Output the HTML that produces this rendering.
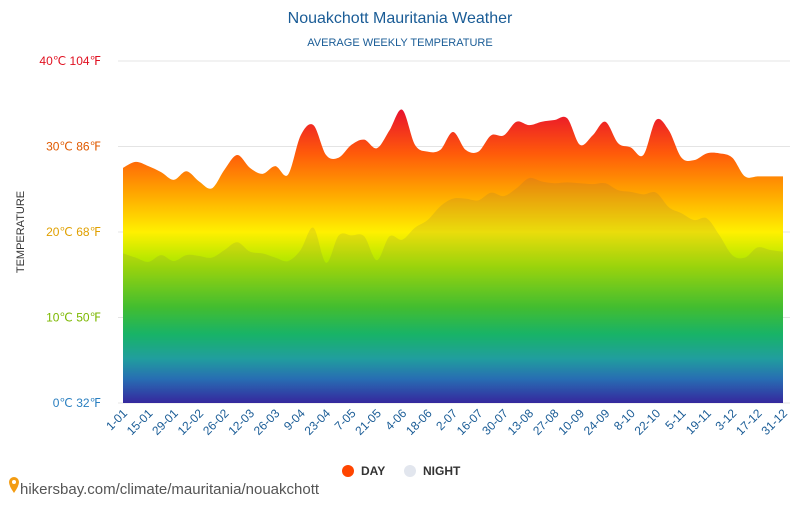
<!DOCTYPE html>
<html><head><meta charset="utf-8"><style>
body{margin:0;background:#fff;font-family:"Liberation Sans",sans-serif;}
svg text{font-family:"Liberation Sans",sans-serif;}
</style></head><body>
<svg id="c" width="800" height="500" viewBox="0 0 800 500">
<defs>
<linearGradient id="g" gradientUnits="userSpaceOnUse" x1="0" y1="61" x2="0" y2="403">
<stop offset="0.14" stop-color="#e8102e"/>
<stop offset="0.27" stop-color="#ff5a0a"/>
<stop offset="0.38" stop-color="#ffa200"/>
<stop offset="0.5" stop-color="#fff000"/>
<stop offset="0.6" stop-color="#a5e600"/>
<stop offset="0.72" stop-color="#3fcc2a"/>
<stop offset="0.8" stop-color="#0ec06a"/>
<stop offset="0.87" stop-color="#18a8a8"/>
<stop offset="0.93" stop-color="#2070c0"/>
<stop offset="1" stop-color="#3020a8"/>
</linearGradient>
</defs>
<text x="400" y="23" text-anchor="middle" font-size="16" fill="#1a5c96">Nouakchott Mauritania Weather</text>
<text x="400" y="46" text-anchor="middle" font-size="11" fill="#1a5c96">AVERAGE WEEKLY TEMPERATURE</text>
<text transform="translate(24,232) rotate(-90)" text-anchor="middle" font-size="11" fill="#333">TEMPERATURE</text>
<g id="grid"></g>
<g id="areas"></g>
<g id="xl"></g>
<g>
<g><circle cx="348" cy="471" r="6" fill="#ff4500"/><text x="361" y="475" font-size="12" fill="#333" font-family="Liberation Mono" font-weight="bold">DAY</text></g>
<g><circle cx="410" cy="471" r="6" fill="#e2e6ee"/><text x="423" y="475" font-size="12" fill="#333" font-family="Liberation Mono" font-weight="bold">NIGHT</text></g>
</g>
<g>
<path d="M9 482 a5 5 0 1 1 10 0 q0 4 -5 11 q-5 -7 -5 -11z" fill="#f39c12"/><circle cx="14" cy="482" r="2" fill="#fff"/>
<text x="20" y="494" font-size="15" fill="#555">hikersbay.com/climate/mauritania/nouakchott</text>
</g>
</svg>
<script>
const dayTemps=[27.5,28.2,27.7,27,26.1,27.1,25.9,25.1,27.3,29,27.5,26.8,27.7,26.7,31.3,32.5,29,28.7,30.2,30.8,29.8,31.9,34.3,30.2,29.4,29.6,31.7,29.6,29.4,31.3,31.3,32.9,32.5,32.9,33.1,33.3,30.2,31.3,32.9,30.4,29.9,29,33.1,31.9,28.7,28.4,29.2,29.2,28.7,26.5,26.5,26.5,26.5];
const nightTemps=[17.5,17,16.5,17.3,16.6,17.3,17.2,17,17.9,18.8,17.7,17.5,17,16.6,17.9,20.5,16.4,19.6,19.6,19.5,16.7,19.5,19.1,20.5,21.4,23,23.9,23.9,23.7,24.6,24.2,25.1,26.3,25.9,25.7,25.8,25.7,25.6,25.7,24.9,24.7,24.4,24.6,22.9,22.2,21.4,21.6,19.6,17.3,17,18.2,17.9,17.7];
const xLabels=["1-01","15-01","29-01","12-02","26-02","12-03","26-03","9-04","23-04","7-05","21-05","4-06","18-06","2-07","16-07","30-07","13-08","27-08","10-09","24-09","8-10","22-10","5-11","19-11","3-12","17-12","31-12"];
const yTicks=[0,10,20,30,40];
const NS="http://www.w3.org/2000/svg";
const x0=123,x1=783,yb=403,yt=61;
const n=dayTemps.length;
function xs(i){return x0+(x1-x0)*i/(n-1);}
function ys(v){return yb-(yb-yt)*v/40;}
function mk(t,a,p){const e=document.createElementNS(NS,t);for(const k in a)e.setAttribute(k,a[k]);(p||document.getElementById('c')).appendChild(e);return e;}
const grid=document.getElementById('grid');
const tcol=["#2a7fc0","#7cb800","#e0a000","#e05a00","#e01020"];
yTicks.forEach((v,i)=>{
 const l=mk('line',{x1:118,x2:790,y1:ys(v),y2:ys(v),stroke:'#e4e4e4'},grid);
 
 
 const t=mk('text',{x:101,y:ys(v)+4,'text-anchor':'end','font-size':12,fill:tcol[i]},grid);
 t.textContent=v+'℃ '+Math.round(v*9/5+32)+'℉';
 
 
});
function path(arr){
 const p=arr.map((v,i)=>[xs(i),ys(v)]);
 let d='M'+x0+','+yb+'L'+p[0][0]+','+p[0][1];
 for(let i=0;i<p.length-1;i++){
  const a=p[Math.max(0,i-1)],b=p[i],c=p[i+1],e=p[Math.min(p.length-1,i+2)];
  d+='C'+(b[0]+(c[0]-a[0])/6)+','+(b[1]+(c[1]-a[1])/6)+' '+(c[0]-(e[0]-b[0])/6)+','+(c[1]-(e[1]-b[1])/6)+' '+c[0]+','+c[1];
 }
 return d+'L'+x1+','+yb+'Z';
}
const ar=document.getElementById('areas');
const dA=mk('path',{d:path(dayTemps),fill:'url(#g)'},ar);


const nA=mk('path',{d:path(nightTemps),fill:'rgba(90,90,90,0.13)'},ar);


const xl=document.getElementById('xl');
xLabels.forEach((s,i)=>{
 const x=xs(i*2);
 const t=mk('text',{transform:'translate('+(x+5)+',414) rotate(-45)','text-anchor':'end','font-size':12,fill:'#1a5c96'},xl);
 t.textContent=s;
 
 
});
</script>
</body></html>
